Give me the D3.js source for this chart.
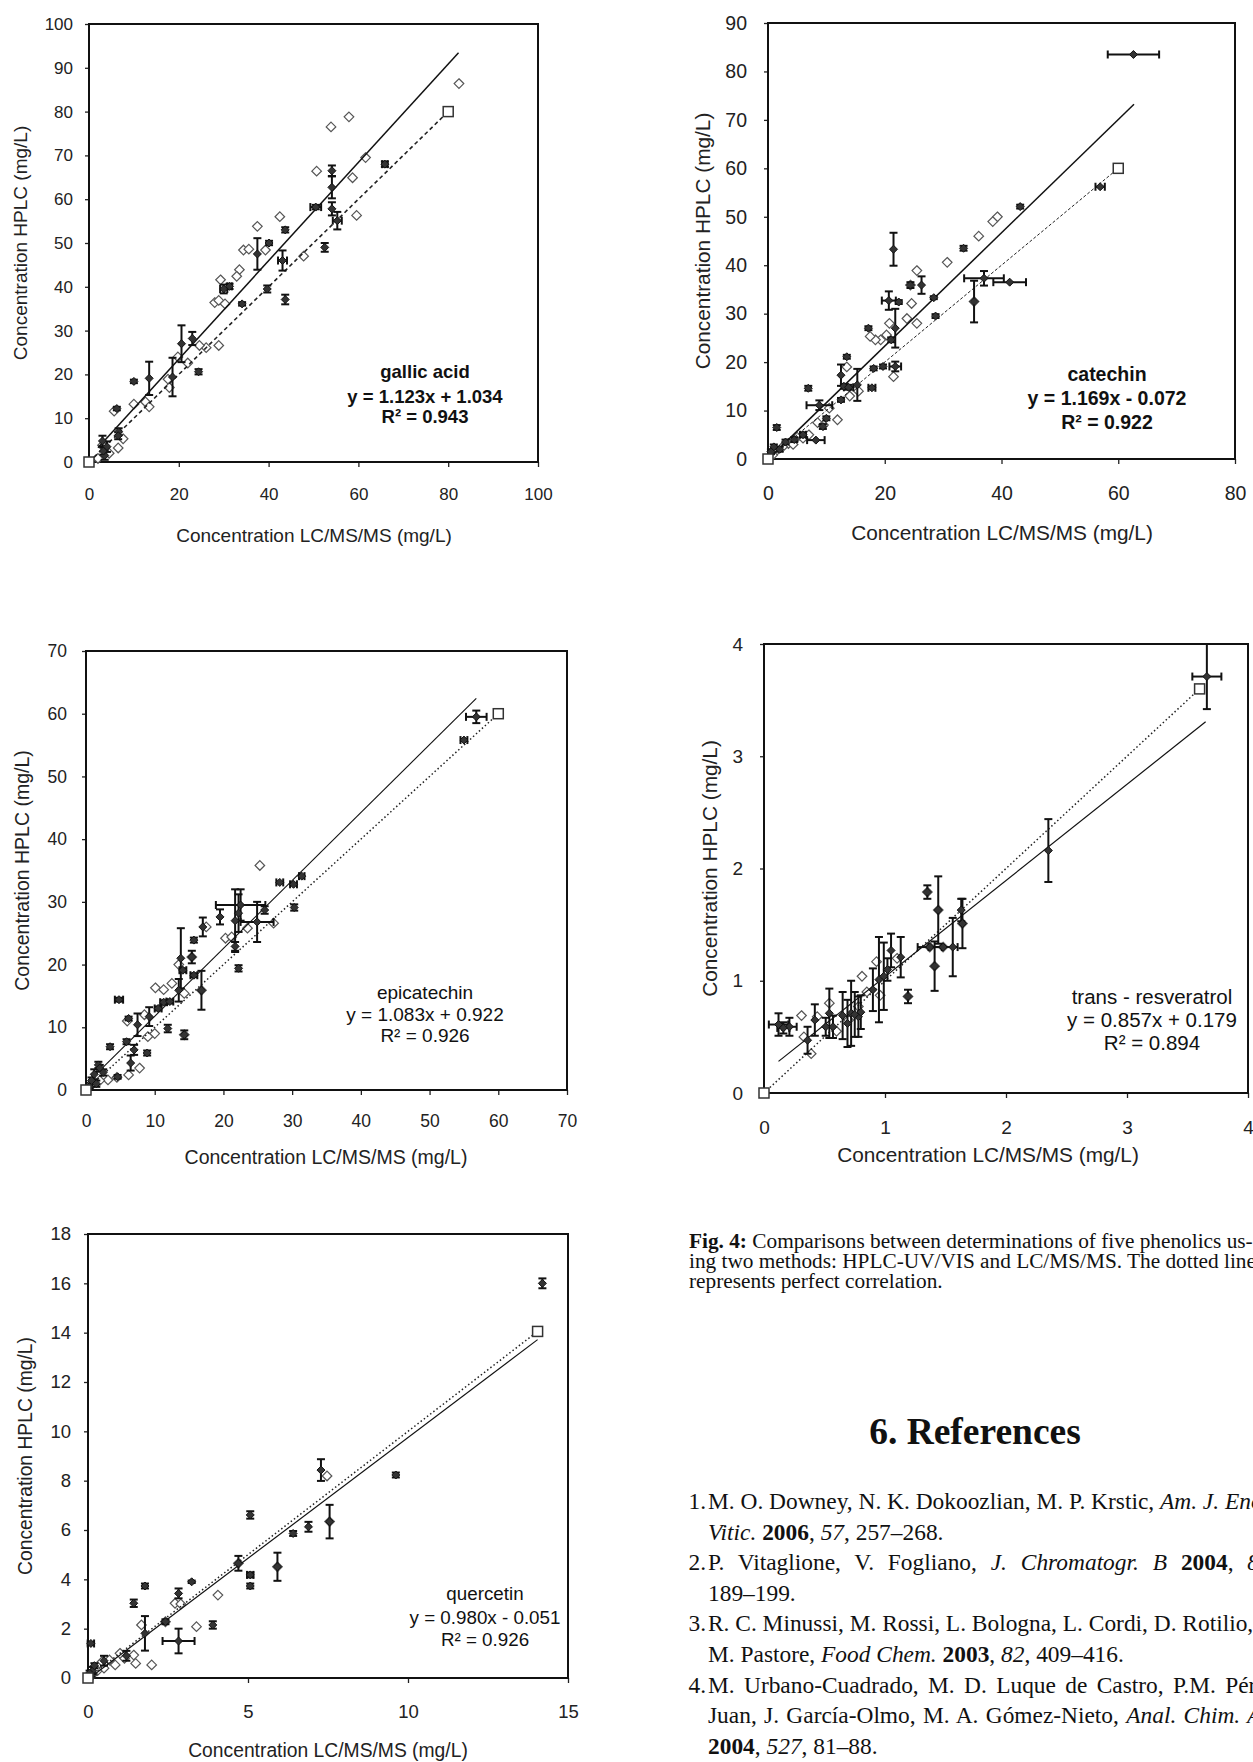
<!DOCTYPE html>
<html>
<head>
<meta charset="utf-8">
<script src="https://cdn.jsdelivr.net/npm/d3@7"></script>
<style>
  body { margin: 0; background: #fff; }
  svg { display: block; }
</style>
</head>
<body>
<div id="fig"></div>
<script>
// ---------- data ----------
// open diamonds [x, y]; error points [x, y, xErr, yErr]; squares = perfect correlation ends
var gallicOpen = [[82.4,86.4],[57.9,78.8],[53.9,76.5],[61.6,69.5],[50.7,66.4],[58.7,64.9],[59.6,56.3],[42.5,56.0],
  [37.5,53.8],[34.4,48.4],[35.6,48.6],[39.3,48.4],[47.8,47.0],[33.5,43.9],[32.9,42.4],[29.3,41.6],[28.0,36.4],
  [28.9,36.9],[30.3,36.1],[28.9,26.6],[26.1,26.1],[24.6,26.6],[19.8,24.0],[22.0,22.6],[17.6,18.9],[17.9,17.0],
  [10.0,13.2],[12.6,13.7],[13.4,12.6],[5.6,11.6],[7.6,5.3],[6.5,3.2],[3.0,3.8],[4.5,2.0],[2.0,0.8]];
var gallicErr = [[65.9,68.0,0.6,0.6],[54.1,66.5,0,1.2],[54.1,62.7,0,2.5],[50.5,58.2,1.2,0.5],[54.1,57.8,0,1.5],
  [55.3,55.1,1.0,2.0],[43.7,53.0,0,0.6],[40.1,50.0,0,0.5],[37.5,47.5,0,3.6],[43.1,46.0,1.0,2.3],[52.5,49.0,0,1.0],
  [30.0,39.5,0.8,1.0],[31.3,40.1,0.5,0.6],[39.7,39.5,0,0.8],[43.7,37.1,0,1.1],[34.1,36.1,0,0.4],[23.0,28.2,0,1.5],
  [20.6,27.0,0,4.2],[18.6,19.4,0,4.4],[24.4,20.6,0,0.6],[10.0,18.4,0,0.4],[13.4,19.1,0,3.8],[6.2,12.2,0,0.4],
  [6.6,6.9,0,0.8],[3.0,4.8,0,1.2],[4.0,3.5,0,1.2],[3.5,1.5,0,1.0],[6.5,6.0,0,0.8],[3.2,2.5,0,0.8]];
var gallicSquares = [[0,0],[80,80]];
var gallicFit = [1.123, 1.034];
var gallicFitX = [2, 82.3];
var gallicLabel = ["gallic acid", "y = 1.123x + 1.034", "R\u00B2 = 0.943"];
var gallicXTicks = [0,20,40,60,80,100];
var gallicYTicks = [0,10,20,30,40,50,60,70,80,90,100];

var catOpen = [[39.3,50.0],[38.5,49.0],[36.1,46.0],[30.7,40.6],[25.5,38.9],[24.4,35.9],[24.6,32.1],[23.8,29.0],
  [25.5,28.0],[20.3,25.6],[19.3,24.6],[18.4,24.6],[17.5,25.3],[21.5,17.0],[11.9,8.1],[13.5,19.0],[15.5,14.0],
  [10.5,10.5],[8.5,7.5],[7.0,5.0],[5.0,4.5],[3.5,3.2],[2.5,2.5],[1.5,1.8],[0.8,0.8],[9.5,7.0],[20.8,28.0],
  [35.3,32.5],[14.0,13.0],[4.3,3.0],[6.0,4.3]];
var catErr = [[62.6,83.5,4.4,0],[56.9,56.2,0.8,0],[43.2,52.1,0,0.4],[33.5,43.5,0,0.5],[21.5,43.3,0,3.4],
  [26.3,35.9,0,1.8],[24.4,35.9,0,0.6],[20.7,32.7,1.2,1.9],[22.4,32.4,0,0.4],[28.4,33.3,0,0.3],[28.7,29.5,0,0.4],
  [37.0,37.3,3.4,1.5],[41.4,36.5,2.8,0],[35.3,32.5,0,4.3],[21.8,27.0,0,4.0],[17.2,27.0,0,0.4],[21.1,24.6,0,0.5],
  [21.8,19.1,1.0,1.0],[19.7,19.1,0,0.4],[18.1,18.7,0,0.4],[17.8,14.7,0.6,0.3],[13.5,21.1,0,0.4],[12.5,17.3,0,2.2],
  [15.3,15.3,0,3.3],[13.0,15.0,0,0.5],[13.8,14.8,0.8,0.5],[12.5,12.2,0,0.4],[6.9,14.6,0,0.5],[8.8,11.1,2.2,1.0],
  [10.0,8.4,0,0.4],[9.4,6.7,0,0.5],[8.2,3.9,1.5,0],[1.5,6.5,0,0.5],[4.5,4.0,0,0.5],[3.0,3.5,0,0.5],
  [6.0,5.0,0.5,0.5],[1.0,2.5,0,0.5],[2.0,2.0,0,0.5],[0.5,1.5,0,0.5]];
var catSquares = [[0,0],[60,60]];
var catFit = [1.169, -0.072];
var catFitX = [0, 62.7];
var catLabel = ["catechin", "y = 1.169x - 0.072", "R\u00B2 = 0.922"];
var catXTicks = [0,20,40,60,80];
var catYTicks = [0,10,20,30,40,50,60,70,80,90];

var epiOpen = [[25.3,35.8],[27.3,26.6],[20.3,24.2],[21.2,24.4],[14.3,15.4],[10.1,16.3],[11.3,16.0],[12.5,17.0],
  [10.0,9.0],[7.8,3.5],[6.2,2.4],[3.2,1.6],[15.4,21.2],[16.8,15.9],[13.5,20.0],[9.0,8.5],[6.0,11.0],[1.0,1.0],
  [2.0,1.5],[14.3,8.8],[23.5,25.8],[17.5,26.0],[8.5,12.0],[4.5,2.0]];
var epiErr = [[56.8,59.5,1.5,1.0],[55.0,55.8,0.5,0],[28.2,33.1,0.5,0],[30.2,32.8,0.5,0],[31.4,34.1,0.4,0],
  [22.5,29.5,3.6,2.5],[21.7,27.0,0,5.0],[30.3,29.1,0,0.5],[26.0,28.7,0,0.6],[24.9,26.8,2.4,3.2],[22.2,28.2,0,3.0],
  [19.5,27.6,0,1.2],[17.0,26.0,0,1.5],[15.7,23.9,0,0.4],[21.7,22.9,0,0.7],[22.2,19.4,0,0.5],[15.4,21.2,0,1.0],
  [13.8,21.0,0,4.8],[14.1,19.1,0.5,0.3],[15.7,18.3,0.5,0.3],[16.8,15.9,0,3.1],[13.5,15.9,0,1.8],[11.3,14.0,0.5,0.3],
  [12.2,14.1,0.5,0.3],[10.5,13.0,0.5,0.3],[11.9,9.8,0,0.6],[14.3,8.8,0,0.7],[9.2,11.7,0,1.5],[7.5,10.4,0,1.8],
  [4.8,14.4,0.6,0.3],[6.2,11.4,0,0.3],[3.5,6.9,0,0.4],[5.9,7.7,0,0.4],[7.0,6.4,0,0.8],[8.9,5.9,0,0.4],
  [6.5,4.3,0,1.2],[4.6,2.1,0,0.3],[1.8,4.0,0,0.5],[1.2,2.5,0,0.8],[2.0,3.5,0,0.5],[0.8,1.5,0,0.5],
  [1.5,1.0,0,0.5],[2.5,2.8,0,0.5],[0.5,0.5,0,0.3]];
var epiSquares = [[0,0],[60,60]];
var epiFit = [1.083, 0.922];
var epiFitX = [0, 56.8];
var epiLabel = ["epicatechin", "y = 1.083x + 0.922", "R\u00B2 = 0.926"];
var epiXTicks = [0,10,20,30,40,50,60,70];
var epiYTicks = [0,10,20,30,40,50,60,70];

var resOpen = [[1.44,1.63],[1.64,1.51],[1.41,1.13],[0.93,1.17],[0.81,1.04],[0.54,0.80],[0.44,0.68],[0.39,0.35],
  [0.31,0.69],[0.33,0.50],[1.48,1.30],[1.37,1.30],[0.96,0.87],[1.19,0.86],[0.78,0.77],[1.10,1.20],[0.60,0.55],
  [0.70,0.65],[0.85,0.90],[1.35,1.79]];
var resErr = [[3.66,3.71,0.12,0.29],[2.35,2.16,0,0.28],[1.35,1.79,0,0.06],[1.44,1.63,0,0.30],[1.63,1.63,0,0.10],
  [1.64,1.51,0,0.22],[1.56,1.30,0,0.26],[1.48,1.30,0.12,0],[1.37,1.30,0.1,0],[1.41,1.13,0,0.22],[1.19,0.86,0,0.06],
  [1.05,1.27,0,0.15],[1.13,1.21,0,0.18],[0.95,1.01,0,0.38],[0.99,1.04,0,0.30],[1.02,1.10,0,0.1],[0.90,0.92,0,0.19],
  [0.72,0.71,0,0.29],[0.78,0.68,0,0.18],[0.65,0.69,0,0.21],[0.69,0.62,0,0.21],[0.54,0.71,0,0.22],[0.57,0.59,0,0.1],
  [0.51,0.59,0,0.08],[0.42,0.65,0,0.14],[0.36,0.47,0,0.12],[0.12,0.61,0.08,0.1],[0.21,0.59,0.06,0.08],
  [0.16,0.58,0.05,0.05],[0.80,0.72,0,0.15],[0.75,0.70,0,0.2]];
var resSquares = [[0,0],[3.6,3.6]];
var resFit = [0.857, 0.179];
var resFitX = [0.12, 3.65];
var resLabel = ["trans - resveratrol", "y = 0.857x + 0.179", "R\u00B2 = 0.894"];
var resXTicks = [0,1,2,3,4];
var resYTicks = [0,1,2,3,4];

var querOpen = [[7.47,8.19],[7.55,6.34],[5.92,4.51],[4.06,3.36],[3.39,2.08],[1.67,2.15],[1.99,0.53],[1.43,0.93],
  [1.49,0.59],[1.14,0.80],[0.85,0.53],[0.67,0.73],[0.44,0.66],[2.72,3.03],[2.9,3.0],[4.70,4.65],[2.42,2.28],
  [1.0,1.0],[0.3,0.3],[0.15,0.15],[0.5,0.4]];
var querErr = [[14.2,16.0,0,0.2],[7.28,8.43,0,0.44],[9.62,8.23,0,0.1],[5.07,6.61,0,0.15],[7.55,6.34,0,0.68],
  [6.89,6.13,0,0.2],[6.41,5.86,0,0.1],[5.92,4.51,0,0.57],[4.70,4.65,0,0.3],[5.07,4.18,0.1,0.1],[5.07,3.73,0,0.1],
  [3.24,3.90,0,0.05],[2.83,3.43,0,0.2],[1.78,3.73,0,0.1],[1.43,3.03,0,0.15],[3.90,2.15,0,0.15],[2.42,2.28,0,0.1],
  [1.78,1.81,0,0.7],[2.83,1.50,0.5,0.5],[0.09,1.40,0.1,0.05],[1.2,0.9,0,0.2],[0.5,0.7,0,0.2],[0.15,0.3,0,0.15],
  [0.1,0.1,0.05,0.05],[0.05,0.2,0,0.1],[0.2,0.5,0,0.1]];
var querSquares = [[0,0],[14.05,14.05]];
var querFit = [0.980, -0.051];
var querFitX = [0, 14.05];
var querLabel = ["quercetin", "y = 0.980x - 0.051", "R\u00B2 = 0.926"];
var querXTicks = [0,5,10,15];
var querYTicks = [0,2,4,6,8,10,12,14,16,18];

var xTitle = "Concentration LC/MS/MS (mg/L)";
var yTitle = "Concentration HPLC (mg/L)";

// ---------- page ----------
var svg = d3.select("#fig").append("svg")
  .attr("width", 1253)
  .attr("height", 1762);

svg.append("rect").attr("width", 1253).attr("height", 1762).attr("fill", "#fff");

var sans = "'Liberation Sans', Arial, sans-serif";

// layout for each panel (pixels)
var panels = [
  { open: gallicOpen, err: gallicErr, sq: gallicSquares, fit: gallicFit, fitX: gallicFitX, label: gallicLabel,
    xTicks: gallicXTicks, yTicks: gallicYTicks, l: 89, r: 538, t: 24, b: 462,
    xPad: 21, yPad: 12, tickFont: 17, titleFont: 19, xTitleX: 314, xTitleY: 535, yTitleX: 20,
    labelX: 425, labelY: [372, 397, 417], labelFont: 18.5, bold: true, refDash: "4,3", refW: 1.6, fitW: 1.5 },
  { open: catOpen, err: catErr, sq: catSquares, fit: catFit, fitX: catFitX, label: catLabel,
    xTicks: catXTicks, yTicks: catYTicks, l: 768, r: 1235, t: 23, b: 459,
    xPad: 22, yPad: 17, tickFont: 19.5, titleFont: 20.8, xTitleX: 1002, xTitleY: 533, yTitleX: 703,
    labelX: 1107, labelY: [374, 398, 422], labelFont: 19.5, bold: true, refDash: "3,2", refW: 1, fitW: 1.5 },
  { open: epiOpen, err: epiErr, sq: epiSquares, fit: epiFit, fitX: epiFitX, label: epiLabel,
    xTicks: epiXTicks, yTicks: epiYTicks, l: 86, r: 567, t: 651, b: 1090,
    xPad: 20, yPad: 15, tickFont: 17.5, titleFont: 19.5, xTitleX: 326, xTitleY: 1157, yTitleX: 22,
    labelX: 425, labelY: [992, 1014, 1035], labelFont: 19, bold: false, refDash: "1.5,2.5", refW: 1.5, fitW: 1.1 },
  { open: resOpen, err: resErr, sq: resSquares, fit: resFit, fitX: resFitX, label: resLabel,
    xTicks: resXTicks, yTicks: resYTicks, l: 764, r: 1248, t: 644, b: 1093,
    xPad: 23, yPad: 17, tickFont: 19, titleFont: 20.8, xTitleX: 988, xTitleY: 1155, yTitleX: 710,
    labelX: 1152, labelY: [997, 1020, 1043], labelFont: 20.5, bold: false, refDash: "1.5,2.5", refW: 1.5, fitW: 1.2 },
  { open: querOpen, err: querErr, sq: querSquares, fit: querFit, fitX: querFitX, label: querLabel,
    xTicks: querXTicks, yTicks: querYTicks, l: 88, r: 568, t: 1234, b: 1678,
    xPad: 22, yPad: 13, tickFont: 18.5, titleFont: 19.3, xTitleX: 328, xTitleY: 1750, yTitleX: 25,
    labelX: 485, labelY: [1593, 1617, 1639], labelFont: 18.8, bold: false, refDash: "1.5,2.5", refW: 1.5, fitW: 1.2 }
];

function diamond(s) {
  return "M0," + (-s) + "L" + s + ",0L0," + s + "L" + (-s) + ",0Z";
}

function drawPanel(p) {
  var x = d3.scaleLinear().domain(d3.extent(p.xTicks)).range([p.l, p.r]);
  var y = d3.scaleLinear().domain(d3.extent(p.yTicks)).range([p.b, p.t]);
  var g = svg.append("g");

  // axes (ticks + labels), frame drawn separately
  var xAxis = g.append("g")
    .attr("transform", `translate(0, ${p.b})`)
    .call(d3.axisBottom(x).tickValues(p.xTicks).tickFormat(d3.format("d"))
      .tickSize(5).tickPadding(p.xPad).tickSizeOuter(0));
  var yAxis = g.append("g")
    .attr("transform", `translate(${p.l}, 0)`)
    .call(d3.axisLeft(y).tickValues(p.yTicks).tickFormat(d3.format("d"))
      .tickSize(4).tickPadding(p.yPad).tickSizeOuter(0));
  [xAxis, yAxis].forEach(function (a) {
    a.select(".domain").remove();
    a.selectAll("line").attr("stroke", "#222").attr("stroke-width", 1.3);
    a.selectAll("text").attr("font-family", sans).attr("font-size", p.tickFont).attr("fill", "#222");
  });

  g.append("rect")
    .attr("x", p.l).attr("y", p.t)
    .attr("width", p.r - p.l).attr("height", p.b - p.t)
    .attr("fill", "none").attr("stroke", "#111").attr("stroke-width", 2);

  // open diamonds
  g.selectAll(".od").data(p.open).enter().append("path")
    .attr("d", diamond(4.8))
    .attr("transform", d => `translate(${x(d[0])}, ${y(d[1])})`)
    .attr("fill", "#fff").attr("stroke", "#555").attr("stroke-width", 1.2);

  // perfect correlation (dotted) and regression (solid)
  var end = p.sq[p.sq.length - 1][0];
  g.append("line")
    .attr("x1", x(0)).attr("y1", y(0)).attr("x2", x(end)).attr("y2", y(end))
    .attr("stroke", "#222").attr("stroke-width", p.refW).attr("stroke-dasharray", p.refDash);
  g.append("line")
    .attr("x1", x(p.fitX[0])).attr("y1", y(p.fit[0] * p.fitX[0] + p.fit[1]))
    .attr("x2", x(p.fitX[1])).attr("y2", y(p.fit[0] * p.fitX[1] + p.fit[1]))
    .attr("stroke", "#111").attr("stroke-width", p.fitW);

  // error bars
  var eb = g.append("g").attr("stroke", "#111").attr("stroke-width", 2).attr("fill", "none");
  p.err.forEach(function (d) {
    var cx = x(d[0]), cy = y(d[1]);
    if (d[3] > 0) {
      var y1 = y(d[1] + d[3]), y2 = y(d[1] - d[3]);
      eb.append("line").attr("x1", cx).attr("x2", cx).attr("y1", y1).attr("y2", y2);
      eb.append("line").attr("x1", cx - 4).attr("x2", cx + 4).attr("y1", y1).attr("y2", y1);
      eb.append("line").attr("x1", cx - 4).attr("x2", cx + 4).attr("y1", y2).attr("y2", y2);
    }
    if (d[2] > 0) {
      var x1 = x(d[0] - d[2]), x2 = x(d[0] + d[2]);
      eb.append("line").attr("x1", x1).attr("x2", x2).attr("y1", cy).attr("y2", cy);
      eb.append("line").attr("x1", x1).attr("x2", x1).attr("y1", cy - 4).attr("y2", cy + 4);
      eb.append("line").attr("x1", x2).attr("x2", x2).attr("y1", cy - 4).attr("y2", cy + 4);
    }
  });
  g.selectAll(".fd").data(p.err).enter().append("path")
    .attr("d", diamond(4))
    .attr("transform", d => `translate(${x(d[0])}, ${y(d[1])})`)
    .attr("fill", "#333").attr("stroke", "#111").attr("stroke-width", 1);

  // squares at the ends of the perfect-correlation line
  g.selectAll(".sq").data(p.sq).enter().append("rect")
    .attr("x", d => x(d[0]) - 5).attr("y", d => y(d[1]) - 5)
    .attr("width", 10).attr("height", 10)
    .attr("fill", "#fff").attr("stroke", "#333").attr("stroke-width", 1.5);

  // axis titles
  g.append("text")
    .attr("x", p.xTitleX).attr("y", p.xTitleY).attr("dy", "0.35em")
    .attr("text-anchor", "middle").attr("font-family", sans).attr("font-size", p.titleFont)
    .attr("fill", "#222").text(xTitle);
  g.append("text")
    .attr("transform", `translate(${p.yTitleX}, ${(p.t + p.b) / 2}) rotate(-90)`)
    .attr("dy", "0.35em")
    .attr("text-anchor", "middle").attr("font-family", sans).attr("font-size", p.titleFont)
    .attr("fill", "#222").text(yTitle);

  // compound label, equation, R²
  p.label.forEach(function (s, i) {
    g.append("text")
      .attr("x", p.labelX).attr("y", p.labelY[i]).attr("dy", "0.35em")
      .attr("text-anchor", "middle").attr("font-family", sans)
      .attr("font-size", p.labelFont).attr("font-weight", p.bold ? "bold" : "normal")
      .attr("fill", "#111").text(s);
  });
}

panels.forEach(drawPanel);

// ---------- caption and references ----------
var serif = "'Liberation Serif', 'Times New Roman', serif";

var captionLines = [
  [["Fig. 4:", "b"], [" Comparisons between determinations of five phenolics us-", ""]],
  [["ing two methods: HPLC-UV/VIS and LC/MS/MS. The dotted line", ""]],
  [["represents perfect correlation.", ""]]
];
var refNumbers = ["1.", "", "2.", "", "3.", "", "4.", "", ""];
var refLines = [
  [["M. O. Downey, N. K. Dokoozlian, M. P. Krstic, ", ""], ["Am. J. Enol.", "i"]],
  [["Vitic.", "i"], [" ", ""], ["2006", "b"], [", ", ""], ["57", "i"], [", 257\u2013268.", ""]],
  [["P. Vitaglione, V. Fogliano, ", ""], ["J. Chromatogr. B", "i"], [" ", ""], ["2004", "b"], [", ", ""], ["812", "i"], [",", ""]],
  [["189\u2013199.", ""]],
  [["R. C. Minussi, M. Rossi, L. Bologna, L. Cordi, D. Rotilio, G.", ""]],
  [["M. Pastore, ", ""], ["Food Chem.", "i"], [" ", ""], ["2003", "b"], [", ", ""], ["82", "i"], [", 409\u2013416.", ""]],
  [["M. Urbano-Cuadrado, M. D. Luque de Castro, P.M. P\u00E9rez-", ""]],
  [["Juan, J. Garc\u00EDa-Olmo, M. A. G\u00F3mez-Nieto, ", ""], ["Anal. Chim. Acta", "i"]],
  [["2004", "b"], [", ", ""], ["527", "i"], [", 81\u201388.", ""]]
];
var refWordSpacing = [0, 0, 8, 0, 0, 0, 3.5, 1.5, 0];

function richLine(xPos, yPos, segs, size, ws) {
  var t = svg.append("text")
    .attr("x", xPos).attr("y", yPos)
    .attr("font-family", serif).attr("font-size", size).attr("fill", "#111")
    .attr("word-spacing", ws || 0)
    .attr("xml:space", "preserve").style("white-space", "pre");
  segs.forEach(function (s) {
    t.append("tspan")
      .attr("font-weight", s[1] === "b" ? "bold" : "normal")
      .attr("font-style", s[1] === "i" ? "italic" : "normal")
      .text(s[0]);
  });
}

captionLines.forEach(function (segs, i) {
  richLine(689, 1248 + i * 19.8, segs, 21.3);
});

svg.append("text")
  .attr("x", 975).attr("y", 1444)
  .attr("text-anchor", "middle")
  .attr("font-family", serif).attr("font-size", 37.5).attr("font-weight", "bold")
  .attr("fill", "#111").text("6. References");

refLines.forEach(function (segs, i) {
  var yPos = 1509 + i * 30.6;
  if (refNumbers[i]) {
    svg.append("text")
      .attr("x", 706).attr("y", yPos).attr("text-anchor", "end")
      .attr("font-family", serif).attr("font-size", 23.4).attr("fill", "#111")
      .text(refNumbers[i]);
  }
  richLine(708, yPos, segs, 23.4, refWordSpacing[i]);
});
</script>
</body>
</html>
